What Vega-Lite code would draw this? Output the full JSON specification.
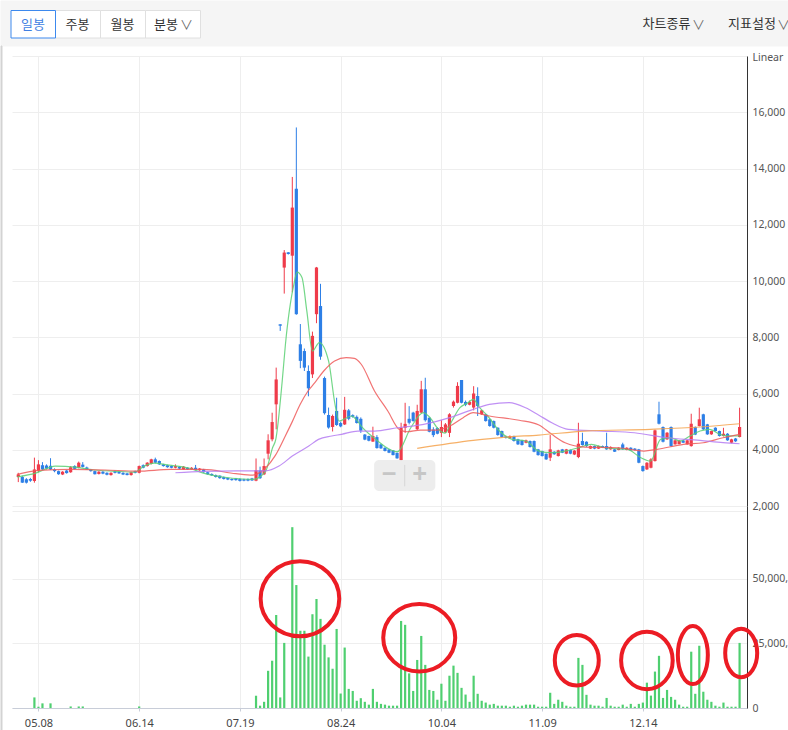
{
  "$schema": "https://vega.github.io/schema/vega-lite/v6.json",
  "padding": 0,
  "background": "#ffffff",
  "spacing": 0,
  "bounds": "flush",
  "config": {
    "view": {"stroke": null},
    "axis": {"labelFont": "Noto Sans", "titleFont": "Noto Sans"},
    "text": {"font": "Noto Sans CJK KR"}
  },
  "resolve": {"scale": {"x": "independent", "y": "independent", "color": "independent", "shape": "independent", "size": "independent", "stroke": "independent"}},
  "datasets": {
    "tbRects": [
      {"kind": "bg", "x0": 0, "x1": 788, "y0": 0, "y1": 45},
      {"kind": "border", "x0": 0, "x1": 1, "y0": 45, "y1": 730},
      {"kind": "btn", "x0": 54.5, "x1": 99.5, "y0": 9.5, "y1": 37},
      {"kind": "btn", "x0": 99.5, "x1": 144.5, "y0": 9.5, "y1": 37},
      {"kind": "btn", "x0": 144.5, "x1": 199.5, "y0": 9.5, "y1": 37},
      {"kind": "sel", "x0": 10, "x1": 54.5, "y0": 9.5, "y1": 37}
    ],
    "tbText": [
      {"t": "일봉", "x": 32, "y": 23.5, "kind": "sel"},
      {"t": "주봉", "x": 76.5, "y": 23.5, "kind": "n"},
      {"t": "월봉", "x": 121.5, "y": 23.5, "kind": "n"},
      {"t": "분봉", "x": 165, "y": 23.5, "kind": "n"},
      {"t": "∨", "x": 185.5, "y": 24, "kind": "chev"},
      {"t": "차트종류", "x": 665.5, "y": 23, "kind": "m"},
      {"t": "∨", "x": 697.5, "y": 24, "kind": "chev"},
      {"t": "지표설정", "x": 751, "y": 23, "kind": "m"},
      {"t": "∨", "x": 782.5, "y": 24, "kind": "chev"}
    ],
    "candles": [
      {"i":0,"o":3030,"h":3180,"l":2850,"c":3124,"v":0},
      {"i":1,"o":3030,"h":3080,"l":2820,"c":2830,"v":0},
      {"i":2,"o":2950,"h":2990,"l":2800,"c":2830,"v":0},
      {"i":3,"o":2960,"h":3000,"l":2860,"c":2900,"v":0},
      {"i":4,"o":2890,"h":3720,"l":2830,"c":3300,"v":4100000},
      {"i":5,"o":3250,"h":3630,"l":3200,"c":3480,"v":500000},
      {"i":6,"o":3450,"h":3560,"l":3280,"c":3300,"v":1800000},
      {"i":7,"o":3440,"h":3480,"l":3300,"c":3330,"v":0},
      {"i":8,"o":3430,"h":3700,"l":3280,"c":3300,"v":1800000},
      {"i":9,"o":3300,"h":3340,"l":3200,"c":3240,"v":0},
      {"i":10,"o":3240,"h":3260,"l":3110,"c":3130,"v":0},
      {"i":11,"o":3120,"h":3240,"l":3100,"c":3220,"v":0},
      {"i":12,"o":3260,"h":3280,"l":3150,"c":3170,"v":0},
      {"i":13,"o":3200,"h":3420,"l":3180,"c":3380,"v":600000},
      {"i":14,"o":3420,"h":3450,"l":3300,"c":3320,"v":0},
      {"i":15,"o":3360,"h":3580,"l":3340,"c":3540,"v":600000},
      {"i":16,"o":3470,"h":3560,"l":3370,"c":3390,"v":600000},
      {"i":17,"o":3370,"h":3400,"l":3280,"c":3300,"v":0},
      {"i":18,"o":3300,"h":3320,"l":3220,"c":3240,"v":0},
      {"i":19,"o":3240,"h":3260,"l":3120,"c":3130,"v":0},
      {"i":20,"o":3140,"h":3240,"l":3120,"c":3220,"v":0},
      {"i":21,"o":3220,"h":3240,"l":3130,"c":3150,"v":0},
      {"i":22,"o":3180,"h":3200,"l":3090,"c":3110,"v":0},
      {"i":23,"o":3100,"h":3200,"l":3080,"c":3180,"v":0},
      {"i":24,"o":3240,"h":3260,"l":3160,"c":3180,"v":0},
      {"i":25,"o":3220,"h":3240,"l":3140,"c":3160,"v":0},
      {"i":26,"o":3180,"h":3200,"l":3100,"c":3120,"v":0},
      {"i":27,"o":3160,"h":3180,"l":3090,"c":3100,"v":0},
      {"i":28,"o":3100,"h":3220,"l":3080,"c":3200,"v":0},
      {"i":29,"o":3240,"h":3260,"l":3160,"c":3180,"v":0},
      {"i":30,"o":3180,"h":3440,"l":3160,"c":3420,"v":600000},
      {"i":31,"o":3450,"h":3480,"l":3340,"c":3360,"v":0},
      {"i":32,"o":3420,"h":3560,"l":3400,"c":3540,"v":0},
      {"i":33,"o":3500,"h":3680,"l":3480,"c":3660,"v":0},
      {"i":34,"o":3660,"h":3720,"l":3520,"c":3540,"v":0},
      {"i":35,"o":3600,"h":3620,"l":3460,"c":3480,"v":0},
      {"i":36,"o":3480,"h":3500,"l":3400,"c":3420,"v":0},
      {"i":37,"o":3450,"h":3470,"l":3360,"c":3380,"v":0},
      {"i":38,"o":3420,"h":3440,"l":3340,"c":3360,"v":0},
      {"i":39,"o":3360,"h":3480,"l":3340,"c":3420,"v":0},
      {"i":40,"o":3400,"h":3420,"l":3310,"c":3330,"v":0},
      {"i":41,"o":3300,"h":3420,"l":3290,"c":3400,"v":0},
      {"i":42,"o":3360,"h":3380,"l":3280,"c":3300,"v":0},
      {"i":43,"o":3300,"h":3380,"l":3290,"c":3360,"v":0},
      {"i":44,"o":3360,"h":3460,"l":3270,"c":3280,"v":0},
      {"i":45,"o":3270,"h":3350,"l":3250,"c":3330,"v":0},
      {"i":46,"o":3300,"h":3320,"l":3180,"c":3200,"v":0},
      {"i":47,"o":3200,"h":3220,"l":3110,"c":3130,"v":0},
      {"i":48,"o":3140,"h":3160,"l":3070,"c":3090,"v":0},
      {"i":49,"o":3100,"h":3120,"l":3010,"c":3030,"v":0},
      {"i":50,"o":3080,"h":3090,"l":2970,"c":2990,"v":0},
      {"i":51,"o":3030,"h":3050,"l":2940,"c":2960,"v":0},
      {"i":52,"o":3000,"h":3010,"l":2920,"c":2940,"v":0},
      {"i":53,"o":2960,"h":2980,"l":2900,"c":2920,"v":0},
      {"i":54,"o":2980,"h":3000,"l":2900,"c":2920,"v":0},
      {"i":55,"o":2960,"h":2990,"l":2870,"c":2890,"v":0},
      {"i":56,"o":2950,"h":2970,"l":2880,"c":2900,"v":0},
      {"i":57,"o":2960,"h":2980,"l":2880,"c":2900,"v":0},
      {"i":58,"o":2980,"h":3000,"l":2890,"c":2910,"v":0},
      {"i":59,"o":2900,"h":3690,"l":2880,"c":3270,"v":4750000},
      {"i":60,"o":3270,"h":3400,"l":2960,"c":2990,"v":900000},
      {"i":61,"o":3125,"h":3690,"l":3100,"c":3420,"v":2400000},
      {"i":62,"o":3860,"h":4550,"l":3660,"c":4335,"v":14400000},
      {"i":63,"o":4370,"h":5317,"l":4300,"c":4985,"v":18300000},
      {"i":64,"o":5615,"h":6920,"l":4726,"c":6500,"v":36000000},
      {"i":65,"o":8460,"h":8460,"l":8225,"c":8410,"v":4100000},
      {"i":66,"o":10477,"h":11100,"l":9552,"c":11011,"v":25200000},
      {"i":67,"o":11020,"h":11030,"l":10940,"c":10960,"v":0},
      {"i":68,"o":10900,"h":13700,"l":9600,"c":12610,"v":70000000},
      {"i":69,"o":13280,"h":15460,"l":8800,"c":8820,"v":47600000},
      {"i":70,"o":7750,"h":8470,"l":6900,"c":7160,"v":29900000},
      {"i":71,"o":7510,"h":7600,"l":6800,"c":6920,"v":29900000},
      {"i":72,"o":6800,"h":7000,"l":5900,"c":6185,"v":19900000},
      {"i":73,"o":6680,"h":8200,"l":6550,"c":8050,"v":36300000},
      {"i":74,"o":8820,"h":10500,"l":8500,"c":10480,"v":42200000},
      {"i":75,"o":9110,"h":9900,"l":7200,"c":7310,"v":34500000},
      {"i":76,"o":6550,"h":6600,"l":5250,"c":5300,"v":24500000},
      {"i":77,"o":5235,"h":5500,"l":4750,"c":4790,"v":19600000},
      {"i":78,"o":4810,"h":5250,"l":4650,"c":5200,"v":15200000},
      {"i":79,"o":5380,"h":5850,"l":4850,"c":4880,"v":30600000},
      {"i":80,"o":4950,"h":5000,"l":4800,"c":4830,"v":5600000},
      {"i":81,"o":4900,"h":5880,"l":4880,"c":5420,"v":23400000},
      {"i":82,"o":5400,"h":5450,"l":5050,"c":5100,"v":7400000},
      {"i":83,"o":5230,"h":5260,"l":5140,"c":5170,"v":6600000},
      {"i":84,"o":5170,"h":5220,"l":4930,"c":4950,"v":2800000},
      {"i":85,"o":5100,"h":5150,"l":4600,"c":4680,"v":3800000},
      {"i":86,"o":4540,"h":4560,"l":4340,"c":4360,"v":2400000},
      {"i":87,"o":4490,"h":4500,"l":4300,"c":4320,"v":1300000},
      {"i":88,"o":4290,"h":4820,"l":4280,"c":4490,"v":7400000},
      {"i":89,"o":4450,"h":4520,"l":4040,"c":4060,"v":2400000},
      {"i":90,"o":4190,"h":4210,"l":4030,"c":4050,"v":1600000},
      {"i":91,"o":4070,"h":4090,"l":3940,"c":3955,"v":1300000},
      {"i":92,"o":4010,"h":4030,"l":3880,"c":3895,"v":900000},
      {"i":93,"o":3975,"h":3990,"l":3800,"c":3810,"v":900000},
      {"i":94,"o":3890,"h":3900,"l":3680,"c":3695,"v":900000},
      {"i":95,"o":3630,"h":4960,"l":3600,"c":4780,"v":33700000},
      {"i":96,"o":4780,"h":5670,"l":4600,"c":4920,"v":32200000},
      {"i":97,"o":5100,"h":5550,"l":4900,"c":4960,"v":13400000},
      {"i":98,"o":5320,"h":5350,"l":5000,"c":5020,"v":6600000},
      {"i":99,"o":4730,"h":5600,"l":4700,"c":5380,"v":18600000},
      {"i":100,"o":5320,"h":6450,"l":5300,"c":6150,"v":27900000},
      {"i":101,"o":6150,"h":6560,"l":5000,"c":5050,"v":16700000},
      {"i":102,"o":5140,"h":5150,"l":4620,"c":4640,"v":7000000},
      {"i":103,"o":4720,"h":4800,"l":4450,"c":4520,"v":6600000},
      {"i":104,"o":4770,"h":4800,"l":4550,"c":4570,"v":3200000},
      {"i":105,"o":4600,"h":5050,"l":4450,"c":4810,"v":9400000},
      {"i":106,"o":4620,"h":4950,"l":4600,"c":4900,"v":2800000},
      {"i":107,"o":4600,"h":5300,"l":4450,"c":5260,"v":12500000},
      {"i":108,"o":5555,"h":5750,"l":5500,"c":5710,"v":16400000},
      {"i":109,"o":5670,"h":6400,"l":5650,"c":6270,"v":13600000},
      {"i":110,"o":6480,"h":6480,"l":5650,"c":5670,"v":7800000},
      {"i":111,"o":5700,"h":5750,"l":5550,"c":5600,"v":5200000},
      {"i":112,"o":5600,"h":5750,"l":5580,"c":5700,"v":2400000},
      {"i":113,"o":5500,"h":6260,"l":5400,"c":6000,"v":12500000},
      {"i":114,"o":5910,"h":6220,"l":5200,"c":5555,"v":5500000},
      {"i":115,"o":5260,"h":5420,"l":5240,"c":5400,"v":2800000},
      {"i":116,"o":5260,"h":5280,"l":5000,"c":5020,"v":2100000},
      {"i":117,"o":5080,"h":5100,"l":4820,"c":4843,"v":1300000},
      {"i":118,"o":5020,"h":5040,"l":4760,"c":4783,"v":1600000},
      {"i":119,"o":4783,"h":4800,"l":4500,"c":4523,"v":900000},
      {"i":120,"o":4665,"h":4680,"l":4430,"c":4452,"v":900000},
      {"i":121,"o":4480,"h":4500,"l":4400,"c":4420,"v":900000},
      {"i":122,"o":4405,"h":4510,"l":4390,"c":4488,"v":500000},
      {"i":123,"o":4488,"h":4500,"l":4290,"c":4310,"v":900000},
      {"i":124,"o":4370,"h":4390,"l":4170,"c":4192,"v":500000},
      {"i":125,"o":4335,"h":4350,"l":4150,"c":4167,"v":900000},
      {"i":126,"o":4250,"h":4360,"l":4230,"c":4335,"v":1300000},
      {"i":127,"o":4310,"h":4330,"l":4080,"c":4096,"v":1300000},
      {"i":128,"o":4310,"h":4330,"l":3910,"c":3930,"v":1300000},
      {"i":129,"o":4014,"h":4030,"l":3790,"c":3810,"v":500000},
      {"i":130,"o":3954,"h":3970,"l":3760,"c":3776,"v":500000},
      {"i":131,"o":3858,"h":3870,"l":3640,"c":3658,"v":500000},
      {"i":132,"o":3717,"h":4523,"l":3598,"c":4014,"v":5900000},
      {"i":133,"o":3930,"h":3950,"l":3820,"c":3840,"v":1600000},
      {"i":134,"o":3776,"h":4000,"l":3760,"c":3977,"v":3200000},
      {"i":135,"o":4014,"h":4030,"l":3880,"c":3894,"v":2400000},
      {"i":136,"o":3860,"h":4030,"l":3840,"c":4014,"v":900000},
      {"i":137,"o":3990,"h":4010,"l":3840,"c":3860,"v":500000},
      {"i":138,"o":3830,"h":3990,"l":3810,"c":3970,"v":500000},
      {"i":139,"o":3740,"h":4960,"l":3700,"c":4214,"v":19400000},
      {"i":140,"o":4310,"h":4605,"l":4150,"c":4167,"v":16700000},
      {"i":141,"o":4285,"h":4300,"l":4100,"c":4131,"v":5100000},
      {"i":142,"o":4040,"h":4150,"l":4030,"c":4131,"v":1300000},
      {"i":143,"o":4131,"h":4150,"l":4020,"c":4040,"v":900000},
      {"i":144,"o":4040,"h":4150,"l":4030,"c":4131,"v":900000},
      {"i":145,"o":4131,"h":4150,"l":4060,"c":4071,"v":500000},
      {"i":146,"o":4131,"h":4605,"l":4000,"c":4014,"v":3900000},
      {"i":147,"o":4014,"h":4120,"l":4000,"c":4100,"v":900000},
      {"i":148,"o":4014,"h":4030,"l":3920,"c":3930,"v":500000},
      {"i":149,"o":3990,"h":4090,"l":3980,"c":4071,"v":500000},
      {"i":150,"o":4190,"h":4250,"l":4000,"c":4014,"v":1300000},
      {"i":151,"o":3990,"h":4090,"l":3980,"c":4071,"v":500000},
      {"i":152,"o":4071,"h":4090,"l":3960,"c":3977,"v":1600000},
      {"i":153,"o":4040,"h":4060,"l":3970,"c":3990,"v":500000},
      {"i":154,"o":4014,"h":4030,"l":3520,"c":3538,"v":1600000},
      {"i":155,"o":3420,"h":3440,"l":3220,"c":3242,"v":2100000},
      {"i":156,"o":3302,"h":3560,"l":3280,"c":3538,"v":9800000},
      {"i":157,"o":3360,"h":3700,"l":3340,"c":3658,"v":4800000},
      {"i":158,"o":3598,"h":4720,"l":3580,"c":4690,"v":14100000},
      {"i":159,"o":5260,"h":5708,"l":4900,"c":4925,"v":20200000},
      {"i":160,"o":4808,"h":4830,"l":4260,"c":4285,"v":3900000},
      {"i":161,"o":4370,"h":4630,"l":4350,"c":4605,"v":7000000},
      {"i":162,"o":4808,"h":4830,"l":4110,"c":4130,"v":4300000},
      {"i":163,"o":4192,"h":4350,"l":4180,"c":4335,"v":3200000},
      {"i":164,"o":4200,"h":4340,"l":4190,"c":4330,"v":1300000},
      {"i":165,"o":4330,"h":4350,"l":4240,"c":4250,"v":500000},
      {"i":166,"o":4192,"h":4350,"l":4180,"c":4335,"v":500000},
      {"i":167,"o":4130,"h":5281,"l":4110,"c":4925,"v":21800000},
      {"i":168,"o":4808,"h":4830,"l":4520,"c":4540,"v":5500000},
      {"i":169,"o":4843,"h":5495,"l":4830,"c":5082,"v":24100000},
      {"i":170,"o":5260,"h":5280,"l":4700,"c":4726,"v":6300000},
      {"i":171,"o":4903,"h":4920,"l":4530,"c":4548,"v":3200000},
      {"i":172,"o":4548,"h":4680,"l":4530,"c":4665,"v":2400000},
      {"i":173,"o":4783,"h":4800,"l":4650,"c":4665,"v":900000},
      {"i":174,"o":4665,"h":4680,"l":4470,"c":4490,"v":500000},
      {"i":175,"o":4490,"h":4780,"l":4470,"c":4570,"v":2100000},
      {"i":176,"o":4570,"h":4590,"l":4320,"c":4335,"v":500000},
      {"i":177,"o":4250,"h":4390,"l":4230,"c":4370,"v":500000},
      {"i":178,"o":4400,"h":4420,"l":4280,"c":4300,"v":500000},
      {"i":179,"o":4452,"h":5495,"l":4440,"c":4808,"v":25200000}
    ],
    "ma": [
      {"s":"ma5","i":-0.3,"p":3030},{"s":"ma5","i":4.3,"p":3170},{"s":"ma5","i":9.2,"p":3420},{"s":"ma5","i":14.1,"p":3385},{"s":"ma5","i":19.0,"p":3280},{"s":"ma5","i":23.9,"p":3240},{"s":"ma5","i":28.8,"p":3205},{"s":"ma5","i":31.3,"p":3420},{"s":"ma5","i":33.7,"p":3525},{"s":"ma5","i":37.4,"p":3455},{"s":"ma5","i":42.3,"p":3350},{"s":"ma5","i":45.9,"p":3170},{"s":"ma5","i":50.8,"p":3030},{"s":"ma5","i":55.7,"p":2960},{"s":"ma5","i":58.2,"p":2946},{"s":"ma5","i":61.4,"p":3242},{"s":"ma5","i":63.1,"p":4071},{"s":"ma5","i":63.9,"p":4370},{"s":"ma5","i":65.5,"p":6445},{"s":"ma5","i":66.3,"p":7752},{"s":"ma5","i":68.4,"p":9887},{"s":"ma5","i":69.2,"p":10314},{"s":"ma5","i":70.4,"p":10121},{"s":"ma5","i":71.6,"p":8937},{"s":"ma5","i":73.0,"p":7510},{"s":"ma5","i":74.7,"p":7810},{"s":"ma5","i":77.0,"p":7157},{"s":"ma5","i":78.6,"p":5616},{"s":"ma5","i":79.6,"p":5021},{"s":"ma5","i":82.7,"p":5200},{"s":"ma5","i":83.9,"p":5070},{"s":"ma5","i":85.1,"p":4843},{"s":"ma5","i":88.4,"p":4405},{"s":"ma5","i":91.7,"p":4050},{"s":"ma5","i":94.1,"p":3930},{"s":"ma5","i":97.4,"p":4783},{"s":"ma5","i":100.5,"p":5317},{"s":"ma5","i":101.8,"p":5200},{"s":"ma5","i":104.7,"p":4665},{"s":"ma5","i":105.9,"p":4590},{"s":"ma5","i":107.6,"p":5020},{"s":"ma5","i":109.6,"p":5495},{"s":"ma5","i":111.6,"p":5673},{"s":"ma5","i":112.9,"p":5793},{"s":"ma5","i":114.5,"p":5495},{"s":"ma5","i":116.5,"p":5200},{"s":"ma5","i":119.4,"p":4665},{"s":"ma5","i":122.6,"p":4370},{"s":"ma5","i":125.9,"p":4310},{"s":"ma5","i":129.2,"p":3954},{"s":"ma5","i":132.4,"p":3900},{"s":"ma5","i":135.7,"p":3954},{"s":"ma5","i":139.0,"p":4071},{"s":"ma5","i":142.2,"p":4192},{"s":"ma5","i":145.5,"p":4071},{"s":"ma5","i":151.2,"p":4014},{"s":"ma5","i":154.5,"p":3717},{"s":"ma5","i":156.9,"p":3598},{"s":"ma5","i":159.4,"p":4370},{"s":"ma5","i":161.8,"p":4427},{"s":"ma5","i":164.3,"p":4310},{"s":"ma5","i":166.7,"p":4490},{"s":"ma5","i":169.2,"p":4665},{"s":"ma5","i":171.6,"p":4726},{"s":"ma5","i":174.1,"p":4548},{"s":"ma5","i":176.5,"p":4490},{"s":"ma5","i":179.0,"p":4490},
      {"s":"ma20","i":-0.3,"p":3124},{"s":"ma20","i":5.1,"p":3267},{"s":"ma20","i":13.3,"p":3300},{"s":"ma20","i":21.5,"p":3280},{"s":"ma20","i":29.6,"p":3240},{"s":"ma20","i":37.8,"p":3300},{"s":"ma20","i":45.9,"p":3300},{"s":"ma20","i":54.0,"p":3150},{"s":"ma20","i":58.2,"p":3100},{"s":"ma20","i":61.4,"p":3360},{"s":"ma20","i":63.8,"p":3800},{"s":"ma20","i":66.3,"p":4500},{"s":"ma20","i":68.0,"p":5000},{"s":"ma20","i":69.9,"p":5600},{"s":"ma20","i":71.9,"p":6090},{"s":"ma20","i":73.6,"p":6385},{"s":"ma20","i":75.8,"p":6800},{"s":"ma20","i":78.5,"p":7157},{"s":"ma20","i":81.4,"p":7274},{"s":"ma20","i":83.4,"p":7250},{"s":"ma20","i":85.1,"p":7040},{"s":"ma20","i":88.4,"p":6090},{"s":"ma20","i":91.7,"p":5377},{"s":"ma20","i":94.5,"p":4726},{"s":"ma20","i":96.5,"p":4640},{"s":"ma20","i":99.8,"p":4700},{"s":"ma20","i":103.9,"p":4700},{"s":"ma20","i":107.1,"p":4843},{"s":"ma20","i":110.4,"p":5140},{"s":"ma20","i":112.9,"p":5317},{"s":"ma20","i":116.9,"p":5200},{"s":"ma20","i":124.3,"p":5050},{"s":"ma20","i":129.2,"p":4880},{"s":"ma20","i":132.4,"p":4548},{"s":"ma20","i":135.7,"p":4250},{"s":"ma20","i":140.6,"p":4096},{"s":"ma20","i":148.8,"p":4071},{"s":"ma20","i":155.3,"p":3954},{"s":"ma20","i":158.5,"p":4014},{"s":"ma20","i":165.1,"p":4192},{"s":"ma20","i":170.0,"p":4250},{"s":"ma20","i":174.9,"p":4427},{"s":"ma20","i":179.0,"p":4548},
      {"s":"ma60","i":39.0,"p":3182},{"s":"ma60","i":45.9,"p":3230},{"s":"ma60","i":54.0,"p":3250},{"s":"ma60","i":61.4,"p":3250},{"s":"ma60","i":64.7,"p":3420},{"s":"ma60","i":68.0,"p":3776},{"s":"ma60","i":72.1,"p":4131},{"s":"ma60","i":74.5,"p":4370},{"s":"ma60","i":77.8,"p":4488},{"s":"ma60","i":80.2,"p":4548},{"s":"ma60","i":84.3,"p":4665},{"s":"ma60","i":88.4,"p":4665},{"s":"ma60","i":94.1,"p":4783},{"s":"ma60","i":100.6,"p":4903},{"s":"ma60","i":107.1,"p":5140},{"s":"ma60","i":112.9,"p":5438},{"s":"ma60","i":116.9,"p":5616},{"s":"ma60","i":121.8,"p":5673},{"s":"ma60","i":125.9,"p":5495},{"s":"ma60","i":129.2,"p":5230},{"s":"ma60","i":132.4,"p":4960},{"s":"ma60","i":136.5,"p":4726},{"s":"ma60","i":144.7,"p":4665},{"s":"ma60","i":152.9,"p":4605},{"s":"ma60","i":161.0,"p":4427},{"s":"ma60","i":169.2,"p":4335},{"s":"ma60","i":174.9,"p":4250},{"s":"ma60","i":179.0,"p":4214},
      {"s":"ma120","i":99.0,"p":4050},{"s":"ma120","i":112.9,"p":4335},{"s":"ma120","i":121.0,"p":4452},{"s":"ma120","i":129.2,"p":4523},{"s":"ma120","i":140.6,"p":4665},{"s":"ma120","i":156.9,"p":4726},{"s":"ma120","i":169.2,"p":4808},{"s":"ma120","i":179.0,"p":4925}
    ],
    "zoomBox": [{"i0": 88.3, "i1": 103.5, "p0": 2530, "p1": 3633}],
    "zoomSep": [{"i": 95.9, "p0": 2700, "p1": 3460}],
    "zoomSigns": [{"t": "−", "i": 92, "p": 3110}, {"t": "+", "i": 99.6, "p": 3110}],
    "circles": [
      {"id": "c1", "i": 69.9, "v": 42300000},
      {"id": "c2", "i": 99.5, "v": 27200000},
      {"id": "c3", "i": 138.6, "v": 18500000},
      {"id": "c4", "i": 156.0, "v": 18400000},
      {"id": "c5", "i": 167.4, "v": 20500000},
      {"id": "c6", "i": 179.4, "v": 21300000}
    ]
  },
  "vconcat": [
    {
      "width": 735,
      "height": 55,
      "resolve": {"scale": {"color": "independent", "size": "independent"}},
      "layer": [
        {
          "data": {"name": "tbRects"},
          "mark": {"type": "rect", "strokeWidth": 1},
          "encoding": {
            "x": {"field": "x0", "type": "quantitative", "scale": {"domain": [11, 746], "nice": false, "zero": false}, "axis": null},
            "x2": {"field": "x1"},
            "y": {"field": "y0", "type": "quantitative", "scale": {"domain": [0, 55], "reverse": true, "nice": false, "zero": false}, "axis": null},
            "y2": {"field": "y1"},
            "color": {"field": "kind", "type": "nominal", "scale": {"domain": ["bg", "border", "btn", "sel"], "range": ["#f5f5f5", "#d3d3d3", "#ffffff", "#ffffff"]}, "legend": null},
            "stroke": {"field": "kind", "type": "nominal", "scale": {"domain": ["bg", "border", "btn", "sel"], "range": ["#f5f5f5", "#d3d3d3", "#e0e0e0", "#3c89ee"]}, "legend": null}
          }
        },
        {
          "data": {"name": "tbText"},
          "mark": {"type": "text", "baseline": "middle", "align": "center", "font": "Noto Sans CJK KR"},
          "encoding": {
            "x": {"field": "x", "type": "quantitative"},
            "y": {"field": "y", "type": "quantitative"},
            "text": {"field": "t"},
            "color": {"field": "kind", "type": "nominal", "scale": {"domain": ["sel", "n", "m", "chev"], "range": ["#3f7fe3", "#333333", "#333333", "#666666"]}, "legend": null},
            "size": {"field": "kind", "type": "ordinal", "scale": {"domain": ["sel", "n", "m", "chev"], "range": [13, 13, 14, 8]}, "legend": null}
          }
        }
      ]
    },
    {
      "width": 735,
      "height": 450,
      "layer": [
        {
          "data": {"name": "candles"},
          "mark": {"type": "rule", "strokeWidth": 1},
          "encoding": {
            "x": {"field": "i", "type": "quantitative", "scale": {"domain": [-0.32, 179.6], "nice": false, "zero": false},
                  "axis": {"values": [5, 30, 55, 80, 105, 130, 155], "labels": false, "ticks": false, "domain": false, "grid": true, "gridColor": "#eeeeee", "title": null}},
            "y": {"field": "l", "type": "quantitative", "scale": {"domain": [2000, 18000], "nice": false, "zero": false},
                  "axis": {"orient": "right", "values": [2000, 4000, 6000, 8000, 10000, 12000, 14000, 16000, 18000],
                           "labelExpr": "datum.value >= 18000 ? '' : format(datum.value, ',')",
                           "grid": true, "gridColor": "#eeeeee", "ticks": false, "domain": true, "domainColor": "#333333",
                           "labelColor": "#555555", "labelFontSize": 10.5, "labelPadding": 5, "labelFlush": false, "labelOverlap": false,
                           "title": "Linear", "titleAngle": 0, "titleAlign": "left", "titleBaseline": "middle", "titleX": 5, "titleY": 1,
                           "titleFontWeight": "normal", "titleFontSize": 10.5, "titleColor": "#555555"}},
            "y2": {"field": "h"},
            "color": {"condition": {"test": "datum.c >= datum.o", "value": "#ef3b4a"}, "value": "#2d7fe6"}
          }
        },
        {
          "data": {"name": "candles"},
          "mark": {"type": "bar", "size": 3.2},
          "encoding": {
            "x": {"field": "i", "type": "quantitative"},
            "y": {"field": "o", "type": "quantitative"},
            "y2": {"field": "c"},
            "color": {"condition": {"test": "datum.c >= datum.o", "value": "#ef3b4a"}, "value": "#2d7fe6"}
          }
        },
        {
          "data": {"name": "ma"},
          "mark": {"type": "line", "interpolate": "monotone", "strokeWidth": 1.2, "opacity": 0.85},
          "encoding": {
            "x": {"field": "i", "type": "quantitative"},
            "y": {"field": "p", "type": "quantitative"},
            "color": {"field": "s", "type": "nominal", "scale": {"domain": ["ma5", "ma20", "ma60", "ma120"], "range": ["#5ad073", "#ef5a5a", "#b57cf2", "#f4a24c"]}, "legend": null}
          }
        },
        {
          "data": {"name": "zoomBox"},
          "mark": {"type": "rect", "color": "#ebebeb", "cornerRadius": 5, "opacity": 0.9},
          "encoding": {
            "x": {"field": "i0", "type": "quantitative"},
            "x2": {"field": "i1"},
            "y": {"field": "p0", "type": "quantitative"},
            "y2": {"field": "p1"}
          }
        },
        {
          "data": {"name": "zoomSep"},
          "mark": {"type": "rule", "color": "#d6d6d6"},
          "encoding": {
            "x": {"field": "i", "type": "quantitative"},
            "y": {"field": "p0", "type": "quantitative"},
            "y2": {"field": "p1"}
          }
        },
        {
          "data": {"name": "zoomSigns"},
          "mark": {"type": "text", "font": "Noto Sans", "fontSize": 26, "fontWeight": "bold", "color": "#c6c6c6", "baseline": "middle", "align": "center"},
          "encoding": {
            "x": {"field": "i", "type": "quantitative"},
            "y": {"field": "p", "type": "quantitative"},
            "text": {"field": "t"}
          }
        }
      ]
    },
    {
      "width": 735,
      "height": 202,
      "layer": [
        {
          "data": {"name": "candles"},
          "mark": {"type": "bar", "size": 2.2, "color": "#4fcf70"},
          "encoding": {
            "x": {"field": "i", "type": "quantitative", "scale": {"domain": [-0.32, 179.6], "nice": false, "zero": false},
                  "axis": {"values": [5, 30, 55, 80, 105, 130, 155],
                           "labelExpr": "['05.08','06.14','07.19','08.24','10.04','11.09','12.14'][round((datum.value-5)/25)]",
                           "grid": true, "gridColor": "#eeeeee", "domainColor": "#c8cdd8", "tickColor": "#c8cdd8", "tickSize": 3,
                           "labelPadding": 6, "labelFontSize": 11, "labelColor": "#444444", "title": null, "labelFlush": false}},
            "y": {"field": "v", "type": "quantitative", "scale": {"domain": [0, 78200000], "nice": false},
                  "axis": {"orient": "right", "values": [0, 25000000, 50000000, 76400000],
                           "labelExpr": "datum.value > 60000000 ? '' : format(datum.value, ',')",
                           "grid": true, "gridColor": "#eeeeee", "domainColor": "#333333", "ticks": false,
                           "labelPadding": 5, "labelFontSize": 10.5, "labelColor": "#555555", "title": null, "labelFlush": false, "labelOverlap": false}}
          }
        },
        {
          "data": {"name": "circles"},
          "mark": {"type": "point", "filled": false, "strokeWidth": 4, "color": "#ec1c24", "size": 6400, "opacity": 1},
          "encoding": {
            "x": {"field": "i", "type": "quantitative"},
            "y": {"field": "v", "type": "quantitative"},
            "shape": {"field": "id", "type": "nominal", "legend": null,
                      "scale": {"domain": ["c1", "c2", "c3", "c4", "c5", "c6"],
                                "range": [
                                  "M 0.983 0 C 0.983 0.518 0.543 0.938 0 0.938 C -0.543 0.938 -0.983 0.518 -0.983 0 C -0.983 -0.518 -0.543 -0.938 0 -0.938 C 0.543 -0.938 0.983 -0.518 0.983 0 Z",
                                  "M 0.9 0 C 0.9 0.467 0.497 0.845 0 0.845 C -0.497 0.845 -0.9 0.467 -0.9 0 C -0.9 -0.467 -0.497 -0.845 0 -0.845 C 0.497 -0.845 0.9 -0.467 0.9 0 Z",
                                  "M 0.55 0 C 0.55 0.35 0.304 0.633 0 0.633 C -0.304 0.633 -0.55 0.35 -0.55 0 C -0.55 -0.35 -0.304 -0.633 0 -0.633 C 0.304 -0.633 0.55 -0.35 0.55 0 Z",
                                  "M 0.645 0 C 0.645 0.397 0.356 0.718 0 0.718 C -0.356 0.718 -0.645 0.397 -0.645 0 C -0.645 -0.397 -0.356 -0.718 0 -0.718 C 0.356 -0.718 0.645 -0.397 0.645 0 Z",
                                  "M 0.375 0 C 0.375 0.4 0.207 0.725 0 0.725 C -0.207 0.725 -0.375 0.4 -0.375 0 C -0.375 -0.4 -0.207 -0.725 0 -0.725 C 0.207 -0.725 0.375 -0.4 0.375 0 Z",
                                  "M 0.4 0 C 0.4 0.334 0.221 0.605 0 0.605 C -0.221 0.605 -0.4 0.334 -0.4 0 C -0.4 -0.334 -0.221 -0.605 0 -0.605 C 0.221 -0.605 0.4 -0.334 0.4 0 Z"
                                ]}}
          }
        }
      ]
    }
  ]
}
